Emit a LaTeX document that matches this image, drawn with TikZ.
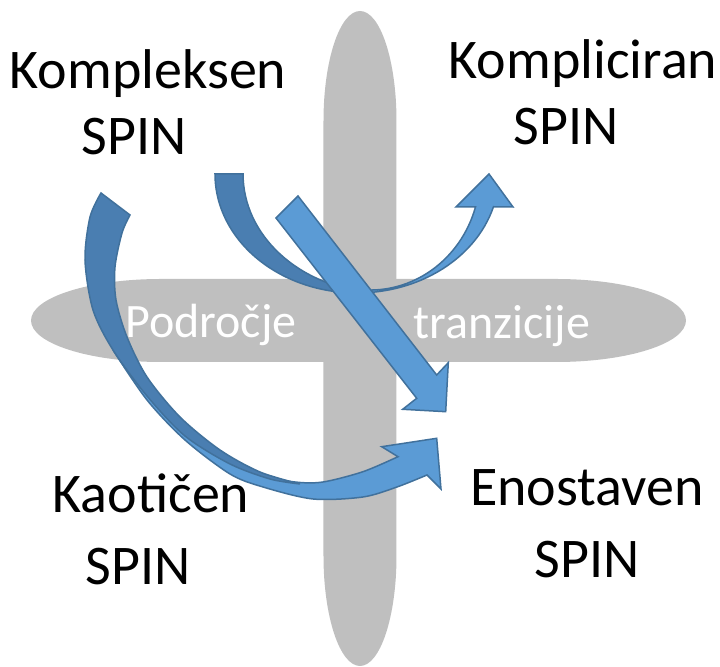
\documentclass[tikz,border=0pt]{standalone}
\usepackage{fontspec}
\setmainfont{Carlito}
\definecolor{bandgrey}{HTML}{BFBFBF}
\definecolor{arrowblue}{HTML}{5B9BD5}
\definecolor{arrowdark}{HTML}{4A7EB1}
\definecolor{arrowline}{HTML}{41719C}
\tikzset{
  spinlabel/.style={font=\fontsize{28}{33}\selectfont, align=center, anchor=base, inner sep=0pt},
  bandlabel/.style={font=\fontsize{24}{28}\selectfont, text=white, anchor=base, inner sep=0pt},
  band/.style={fill=bandgrey},
  frontarrow/.style={fill=arrowblue, draw=arrowline, line width=0.75pt},
  backarrow/.style={fill=arrowdark, draw=arrowline, line width=0.75pt}
}
\begin{document}
\begin{tikzpicture}[x=0.5pt,y=-0.5pt]
  \useasboundingbox (0,0) rectangle (720,667);
  % grey bands
  \path[band] (323.5,121) -- (323.5,556)
    arc[start angle=180,end angle=0,x radius=36.5,y radius=110] -- (396.5,121)
    arc[start angle=0,end angle=-180,x radius=36.5,y radius=110] -- cycle;
  \path[band] (161,279) -- (556,279)
    arc[start angle=-90,end angle=90,x radius=130,y radius=41.5] -- (161,362)
    arc[start angle=90,end angle=270,x radius=130,y radius=41.5] -- cycle;
  % labels
  \node[spinlabel] (kompleksen) at (148,155) {Kompleksen\\SPIN\hspace*{0.5em}};
  \node[spinlabel] (kompliciran) at (583,145) {Kompliciran\\SPIN\hspace*{0.6em}};
  \node[spinlabel] (kaoticen) at (151,585) {Kaotičen\\[3pt]SPIN\hspace*{0.45em}};
  \node[spinlabel] (enostaven) at (587,578) {Enostaven\\[3pt]SPIN};
  \node[bandlabel] (podrocje) at (211,338) {Področje};
  \node[bandlabel] (tranzicije) at (502,339) {tranzicije};
  % long curved arrow
  \path[frontarrow] plot[smooth] coordinates {(113,350) (147,400) (185,440) (230,474) (263,487) (313,499) (363,497) (397,487) (427,475)}
    -- (441,489) -- (436.7,438.3) -- (381.7,446.7) -- (398,456.7)
    -- plot[smooth] coordinates {(398,456.7) (363,471.7) (323,482) (295,482) (260,475) (220,455) (180,425) (147,388) (113,350)} -- cycle;
  \path[backarrow] (130,215) -- (101,193)
    -- plot[smooth] coordinates {(101,193) (90,217) (85,260) (93,310) (113,350) (147,396) (185,436) (230,464) (270,479) (300,484)}
    -- plot[smooth] coordinates {(300,484) (260,472) (220,450) (180,417) (147,377) (127,337) (116,300) (115,267) (122,233) (130,215)} -- cycle;
  % u-turn arrow
  \path[frontarrow] (344.6,292.5) arc[start angle=95,end angle=16,x radius=142,y radius=119]
    -- (513,207) -- (489,174) -- (456,207) -- (475.5,207)
    arc[start angle=16.5,end angle=95,x radius=110,y radius=116] -- cycle;
  \path[backarrow] (215,174) arc[start angle=180,end angle=84,x radius=142,y radius=119]
    -- (370.2,292.3) arc[start angle=96,end angle=180,x radius=142,y radius=119] -- cycle;
  % straight arrow
  \path[frontarrow] (298,196) -- (436.7,375) -- (448.3,362.7) -- (445.7,411.7)
    -- (402.7,409.3) -- (416.7,398.3) -- (276,218) -- cycle;
\end{tikzpicture}
\end{document}
